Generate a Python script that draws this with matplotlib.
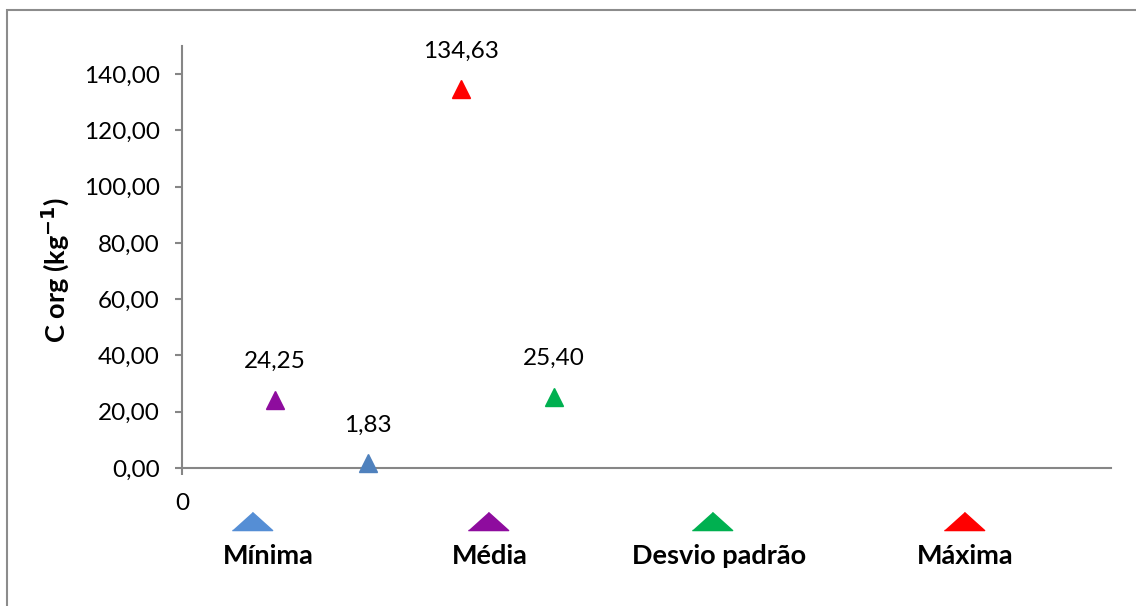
import matplotlib.pyplot as plt
from matplotlib.lines import Line2D
from matplotlib.patches import Rectangle
from matplotlib.ticker import FuncFormatter

plt.rcParams['font.family'] = ['Lato', 'DejaVu Sans']

# data: series order on x (1..4) as drawn in the chart
series = ['Média', 'Mínima', 'Máxima', 'Desvio padrão']
x_pos = [1, 2, 3, 4]
values = [24.25, 1.83, 134.63, 25.40]
labels = ['24,25', '1,83', '134,63', '25,40']
colors = ['#8E0C9E', '#4F81BD', '#FF0000', '#00B050']

# legend order and colours
legend_names = ['Mínima', 'Média', 'Desvio padrão', 'Máxima']
legend_colors = ['#558ED5', '#8E0C9E', '#00B050', '#FF0000']

W, H = 1136, 606
fig = plt.figure(figsize=(W / 100, H / 100), dpi=100)
ax = fig.add_axes([182 / W, 1 - 468 / H, (1111 - 182) / W, (468 - 46) / H])

for xi, yi, c, lab in zip(x_pos, values, colors, labels):
    ax.plot([xi], [yi], marker='^', color=c, markersize=13, linestyle='none',
            clip_on=False, zorder=3)
    ax.annotate(lab, (xi, yi), xytext=(0, 38), textcoords='offset pixels',
                ha='center', va='center', fontsize=17.5)

ax.set_xlim(0, 10)
ax.set_ylim(0, 150)
ax.set_yticks(range(0, 141, 20))
ax.yaxis.set_major_formatter(FuncFormatter(lambda v, p: f'{v:.2f}'.replace('.', ',')))
ax.set_xticks([0])
ax.set_xticklabels(['0'])

for s in ['top', 'right']:
    ax.spines[s].set_visible(False)
for s in ['left', 'bottom']:
    ax.spines[s].set_color('#868686')
    ax.spines[s].set_linewidth(1.5)
ax.spines['left'].set_bounds(0, 150)
ax.tick_params(axis='y', length=5, width=1.5, color='#868686', labelsize=17.5, pad=11)
ax.tick_params(axis='x', length=5, width=1.5, color='#868686', labelsize=17.5, pad=13)

ax.set_ylabel('C org (kg$^{\\mathbf{-1}}$)', fontsize=19.5, fontweight='bold')
ax.yaxis.set_label_coords(-0.12, 0.47)

# legend below the plot, marker above the label
flat_tri = [(-1, -0.45), (1, -0.45), (0, 0.45)]
leg_x = [252, 488, 712, 964]
lab_x = [268, 490, 719, 965]
for lx, tx, name, c in zip(leg_x, lab_x, legend_names, legend_colors):
    fig.add_artist(Line2D([lx / W], [1 - 521 / H], marker=flat_tri, markersize=29,
                          color=c, linestyle='none', transform=fig.transFigure))
    fig.text(tx / W, 1 - 556 / H, name, ha='center', va='center',
             fontsize=19.5, fontweight='bold')

# outer chart border
fig.add_artist(Rectangle((7 / W, -0.05), 1.2, 1 - 9.5 / H + 0.05, fill=False,
                         edgecolor='#8C8C8C', linewidth=1.5, transform=fig.transFigure))

fig.savefig('out.png', dpi=100)
